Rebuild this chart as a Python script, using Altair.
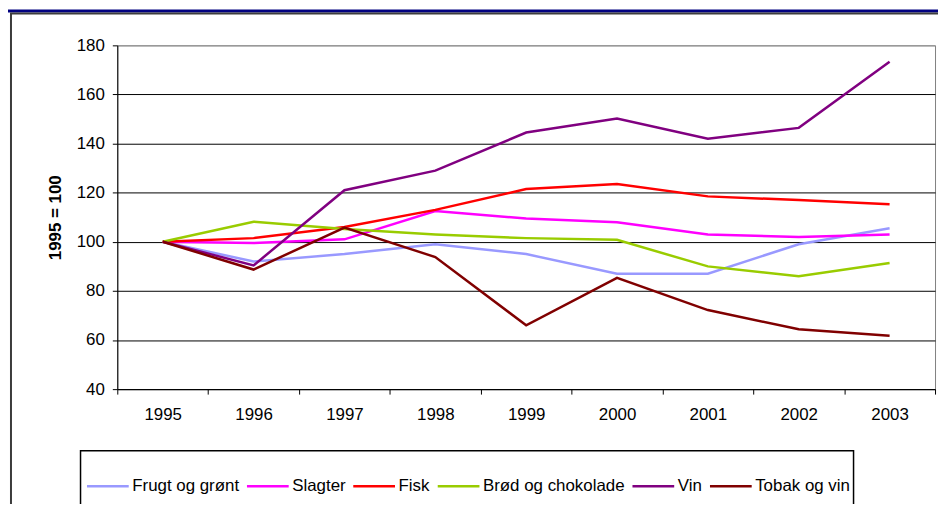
import altair as alt
import pandas as pd

years = ["1995", "1996", "1997", "1998", "1999", "2000", "2001", "2002", "2003"]
series_names = ["Frugt og grønt", "Slagter", "Fisk", "Brød og chokolade", "Vin", "Tobak og vin"]
frugt = [100, 92, 95, 99, 95, 87, 87, 99, 105.5]
slagter = [100, 99.5, 101, 112.5, 109.5, 108, 103, 102, 103]
fisk = [100, 101.5, 106, 113, 121.5, 123.5, 118.5, 117, 115.3]
brod = [100, 108.2, 105.2, 103, 101.5, 100.8, 90, 86, 91.4]
vin = [100, 90.4, 121, 129, 144.5, 150.2, 142, 146.4, 173.3]
tobak = [100, 88.7, 105.8, 93.8, 66, 85.3, 72.2, 64.4, 61.7]
colors = ["#9999FF", "#FF00FF", "#FF0000", "#99CC00", "#800080", "#800000"]
y_ticks = [40, 60, 80, 100, 120, 140, 160, 180]

series_values = [frugt, slagter, fisk, brod, vin, tobak]
rows = []
for name, vals in zip(series_names, series_values):
    for yr, v in zip(years, vals):
        rows.append({"year": yr, "series": name, "value": v})
df = pd.DataFrame(rows)

FONT = "Liberation Sans"
one = pd.DataFrame({"k": [0]})

navy_bar = alt.Chart(one).mark_rect(color="#000080").encode(
    x=alt.value(-110), x2=alt.value(830), y=alt.value(-36), y2=alt.value(-33)
)
outer_box = alt.Chart(one).mark_rect(fillOpacity=0, stroke="#3c3c3c", strokeWidth=2).encode(
    x=alt.value(-107), x2=alt.value(900), y=alt.value(-32), y2=alt.value(520)
)
legend_box = alt.Chart(one).mark_rect(fillOpacity=0, stroke="#000000", strokeWidth=1.5).encode(
    x=alt.value(-37), x2=alt.value(741), y=alt.value(408), y2=alt.value(520)
)

lines = alt.Chart(df).mark_line(strokeWidth=2.5).encode(
    x=alt.X(
        "year:O",
        title=None,
        bandPosition=0.5,
        scale=alt.Scale(type="band", paddingInner=0, paddingOuter=0),
        axis=alt.Axis(
            tickBand="extent", labelAngle=0, labelPadding=13, tickSize=5,
            domainColor="#000000", tickColor="#000000", grid=False,
            labelFont=FONT, labelFontSize=17, labelColor="#000000",
        ),
    ),
    y=alt.Y(
        "value:Q",
        title="1995 = 100",
        scale=alt.Scale(domain=[40, 180], nice=False, zero=False),
        axis=alt.Axis(
            values=y_ticks, grid=True,
            gridColor={"condition": {"test": "datum.value === 180", "value": "#909090"}, "value": "#000000"},
            gridWidth=1, domainColor="#000000", tickColor="#000000", tickSize=5,
            labelPadding=8, labelFont=FONT, labelFontSize=17, labelColor="#000000",
            titleFont=FONT, titleFontSize=17, titleFontWeight="bold", titleColor="#000000",
            titleAngle=270, titleX=-62, titleY=173, titleBaseline="middle", titleAlign="center",
        ),
    ),
    color=alt.Color(
        "series:N",
        title=None,
        scale=alt.Scale(domain=series_names, range=colors),
        legend=alt.Legend(
            orient="none", legendX=-32, legendY=421, direction="horizontal",
            symbolType="stroke", symbolSize=1764, symbolStrokeWidth=2.5,
            labelOffset=2, columnPadding=2, padding=0,
            labelFont=FONT, labelFontSize=17, labelColor="#000000",
        ),
    ),
)

chart = alt.layer(navy_bar, outer_box, legend_box, lines).properties(
    width=823,
    height=346,
    autosize=alt.AutoSizeParams(type="none"),
    padding={"left": 110, "top": 36, "right": 3, "bottom": 114},
    background="#ffffff",
).configure_view(stroke="#808080", strokeWidth=1)

chart.save("out.html", embed_options={"renderer": "svg", "actions": False})
